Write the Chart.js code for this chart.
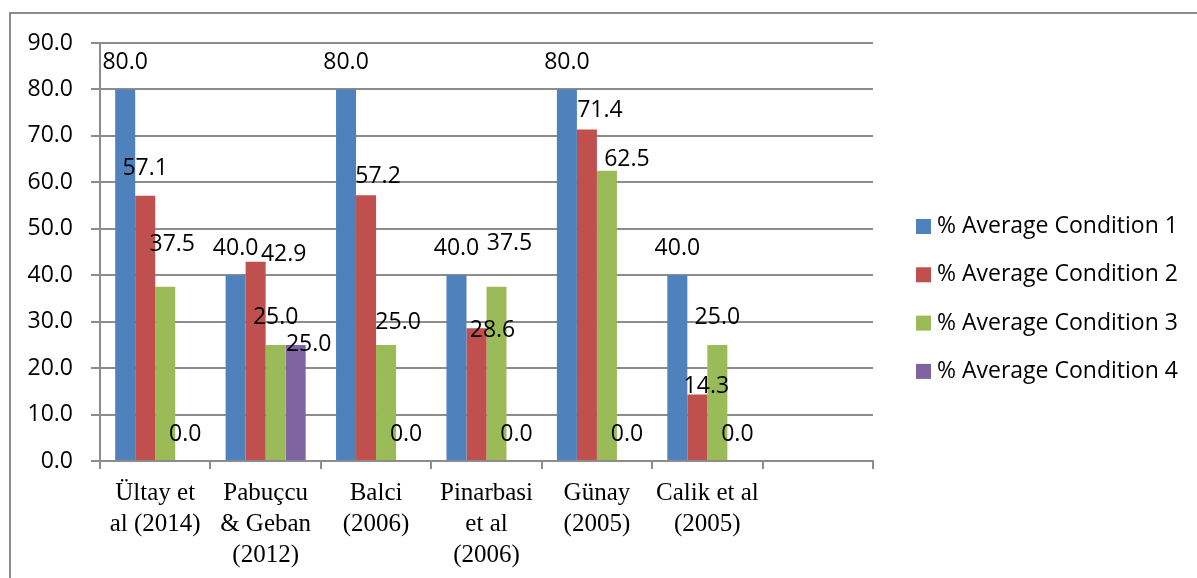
<!DOCTYPE html>
<html>
<head>
<meta charset="utf-8">
<script src="https://cdn.jsdelivr.net/npm/chart.js@4.4.1/dist/chart.umd.min.js"></script>
<style>
  html, body { margin: 0; padding: 0; background: #ffffff; }
  #wrap { width: 1197px; height: 578px; position: relative; }
</style>
</head>
<body>
<div id="wrap"><canvas id="chart" width="1197" height="578"></canvas></div>
<script>
// Studies on the category axis (multi-line labels); the last slot is left empty.
const studies = [
  ["Ültay et", "al (2014)"],
  ["Pabuçcu", "& Geban", "(2012)"],
  ["Balci", "(2006)"],
  ["Pinarbasi", "et al", "(2006)"],
  ["Günay", "(2005)"],
  ["Calik et al", "(2005)"],
  ""
];

const seriesNames = [
  "% Average Condition 1",
  "% Average Condition 2",
  "% Average Condition 3",
  "% Average Condition 4"
];

const condition1 = [80.0, 40.0, 80.0, 40.0, 80.0, 40.0, null];
const condition2 = [57.1, 42.9, 57.2, 28.6, 71.4, 14.3, null];
const condition3 = [37.5, 25.0, 25.0, 37.5, 62.5, 25.0, null];
const condition4 = [0.0, 25.0, 0.0, 0.0, 0.0, 0.0, null];

const yMin = 0;
const yMax = 90;
const yStep = 10;

const seriesColors = ["#4F81BD", "#C0504D", "#9BBB59", "#8064A2"];
const seriesValues = [condition1, condition2, condition3, condition4];

const axisGray = "#8c8c8c";
const numberFont = { family: "'Open Sans', sans-serif", size: 23 };

// Hand-placed value labels that were moved off their default spot: [dataset, index] -> [dx, dy]
const labelShift = {
  "2,0": [7, -15],
  "1,1": [28, 20],
  "3,1": [13, 27],
  "1,2": [12, 8],
  "2,2": [12, 5],
  "1,3": [16, 29],
  "2,3": [13, -16],
  "1,4": [13, 8],
  "2,4": [20, 16],
  "1,5": [9, 19]
};

// White page with the grey frame on the top and left edges.
const framePlugin = {
  id: "frame",
  beforeDraw(chart) {
    const ctx = chart.ctx;
    ctx.save();
    ctx.fillStyle = "#ffffff";
    ctx.fillRect(0, 0, chart.width, chart.height);
    ctx.strokeStyle = axisGray;
    ctx.lineWidth = 2;
    ctx.beginPath();
    ctx.moveTo(10, chart.height + 2);
    ctx.lineTo(10, 13);
    ctx.lineTo(chart.width + 2, 13);
    ctx.stroke();
    ctx.restore();
  }
};

// Value labels above each bar.
const valueLabelPlugin = {
  id: "valueLabels",
  afterDatasetsDraw(chart) {
    const ctx = chart.ctx;
    ctx.save();
    ctx.font = numberFont.size + "px " + numberFont.family;
    ctx.fillStyle = "#000000";
    ctx.textAlign = "center";
    ctx.textBaseline = "middle";
    chart.data.datasets.forEach((ds, di) => {
      const meta = chart.getDatasetMeta(di);
      meta.data.forEach((bar, i) => {
        const v = ds.data[i];
        if (v === null || v === undefined) return;
        const shift = labelShift[di + "," + i] || [0, 0];
        ctx.fillText(v.toFixed(1), bar.x + shift[0], bar.y - 27 + shift[1]);
      });
    });
    ctx.restore();
  }
};

// Legend column to the right of the plot.
const sideLegendPlugin = {
  id: "sideLegend",
  afterDraw(chart) {
    const ctx = chart.ctx;
    ctx.save();
    ctx.font = numberFont.size + "px " + numberFont.family;
    ctx.textAlign = "left";
    ctx.textBaseline = "middle";
    chart.data.datasets.forEach((ds, di) => {
      const cy = 226.5 + di * 48.3;
      ctx.fillStyle = ds.backgroundColor;
      ctx.fillRect(916, cy - 7.5, 15, 15);
      ctx.fillStyle = "#000000";
      ctx.fillText(ds.label, 937, cy);
    });
    ctx.restore();
  }
};

const chart = new Chart(document.getElementById("chart"), {
  type: "bar",
  data: {
    labels: studies,
    datasets: seriesNames.map((name, k) => ({
      label: name,
      data: seriesValues[k],
      backgroundColor: seriesColors[k],
      borderWidth: 0,
      barPercentage: 1.0,
      categoryPercentage: 0.725
    }))
  },
  options: {
    responsive: false,
    animation: false,
    devicePixelRatio: 1,
    layout: { padding: { top: 43, right: 324, bottom: 0, left: 0 } },
    plugins: {
      legend: { display: false },
      tooltip: { enabled: false }
    },
    scales: {
      x: {
        offset: true,
        grid: {
          offset: true,
          drawOnChartArea: false,
          drawTicks: true,
          tickLength: 8,
          color: axisGray,
          lineWidth: 2
        },
        border: { color: axisGray, width: 2 },
        ticks: {
          color: "#000000",
          font: { family: "'Liberation Serif', 'Times New Roman', serif", size: 25, lineHeight: 1.24 },
          padding: 9,
          maxRotation: 0,
          minRotation: 0,
          autoSkip: false
        },
        afterFit(scale) { scale.height = 117; }
      },
      y: {
        min: yMin,
        max: yMax,
        grid: {
          color: axisGray,
          lineWidth: 2,
          tickLength: 9
        },
        border: { color: axisGray, width: 2 },
        ticks: {
          stepSize: yStep,
          color: "#000000",
          font: numberFont,
          padding: 18,
          callback: (v) => Number(v).toFixed(1)
        },
        afterFit(scale) { scale.width = 100; }
      }
    }
  },
  plugins: [framePlugin, valueLabelPlugin, sideLegendPlugin]
});
</script>
</body>
</html>
